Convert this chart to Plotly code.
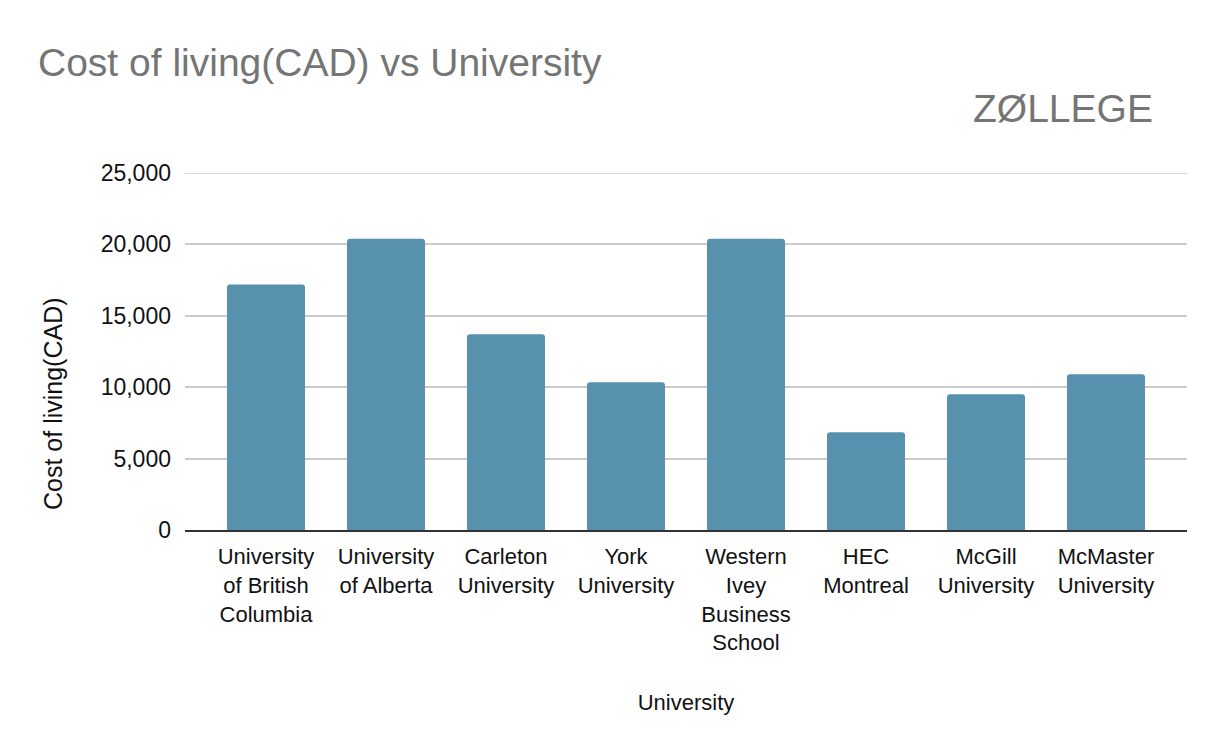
import plotly.graph_objects as go

universities = [
    "University<br>of British<br>Columbia",
    "University<br>of Alberta",
    "Carleton<br>University",
    "York<br>University",
    "Western<br>Ivey<br>Business<br>School",
    "HEC<br>Montreal",
    "McGill<br>University",
    "McMaster<br>University",
]
cost_of_living = [17200, 20400, 13700, 10350, 20400, 6850, 9500, 10900]
y_ticks = [0, 5000, 10000, 15000, 20000, 25000]
y_tick_labels = ["0", "5,000", "10,000", "15,000", "20,000", "25,000"]

FONT = "Arial, Liberation Sans, sans-serif"

fig = go.Figure(
    go.Bar(
        x=universities,
        y=cost_of_living,
        marker=dict(color="#5891ae", line=dict(width=0)),
        width=0.65,
    )
)

fig.update_layout(
    width=1224,
    height=756,
    margin=dict(l=185, r=37, t=173, b=226, autoexpand=False),
    paper_bgcolor="white",
    plot_bgcolor="white",
    barcornerradius=3,
    showlegend=False,
    font=dict(family=FONT, size=22, color="#111111"),
    title=dict(
        text="Cost of living(CAD) vs University",
        font=dict(family=FONT, size=39, color="#757575"),
        x=38 / 1224,
        xanchor="left",
        xref="container",
        y=1 - 62 / 756,
        yanchor="middle",
        yref="container",
    ),
    annotations=[
        dict(
            text="ZØLLEGE",
            xref="paper",
            yref="paper",
            x=(1155 - 185) / 1002,
            y=(530 - 109) / 357,
            xanchor="right",
            yanchor="middle",
            showarrow=False,
            font=dict(family=FONT, size=39, color="#757575"),
        ),
        dict(
            text="Cost of living(CAD)",
            xref="paper",
            yref="paper",
            x=(53 - 185) / 1002,
            y=(530 - 404) / 357,
            xanchor="center",
            yanchor="middle",
            textangle=-90,
            showarrow=False,
            font=dict(family=FONT, size=25, color="#111111"),
        ),
    ],
    shapes=[
        dict(
            type="line",
            xref="paper",
            yref="y",
            x0=0,
            x1=1,
            y0=y_ticks[-1],
            y1=y_ticks[-1],
            line=dict(color="#cccccc", width=1.5),
            layer="below",
        )
    ],
)

fig.update_xaxes(
    type="category",
    range=[-0.675, 7.675],
    showgrid=False,
    showline=True,
    linecolor="#333333",
    linewidth=2,
    ticks="",
    ticklabelstandoff=6,
    tickfont=dict(family=FONT, size=22, color="#111111"),
    title=dict(text="University", font=dict(family=FONT, size=22, color="#111111"), standoff=40),
    automargin=False,
)

fig.update_yaxes(
    range=[0, 25000],
    tickvals=y_ticks,
    ticktext=y_tick_labels,
    showgrid=True,
    gridcolor="#cccccc",
    gridwidth=1.5,
    zeroline=False,
    showline=False,
    ticks="",
    ticklabelstandoff=13,
    tickfont=dict(family=FONT, size=23, color="#111111"),
    automargin=False,
)

fig.write_html("out.html")
